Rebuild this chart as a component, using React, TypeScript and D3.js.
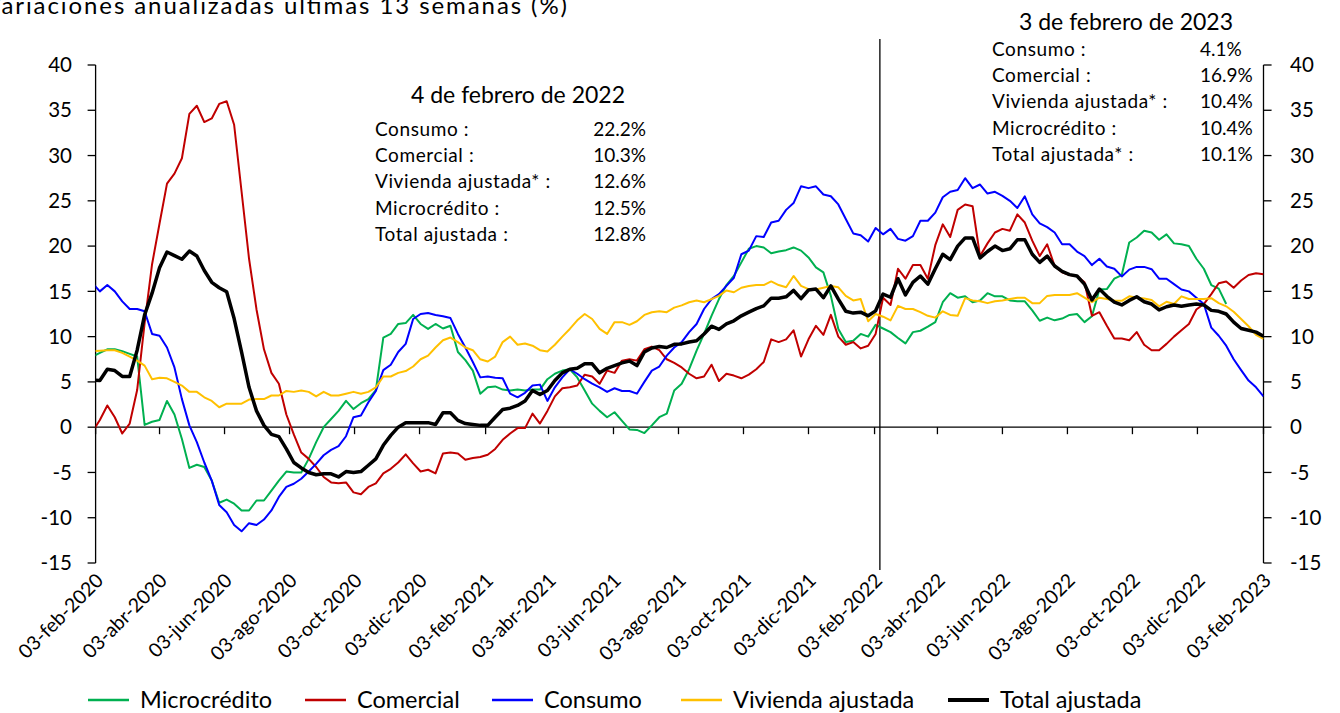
import React from "react";
import * as d3 from "d3";

// Weekly data (Fridays), first week 31-ene-2020, last week 03-feb-2023
const firstWeek = Date.UTC(2020, 0, 31);
const weekMs = 7 * 86400000;

const microcredito: (number | null)[] = [
  7.8, 8.2, 8.6, 8.6, 8.4, 8.1, 7.8, 0.25, 0.6, 0.8,
  2.9, 1.4, -1.3, -4.5, -4.15, -4.4, -5.9, -8.35, -8.0, -8.45,
  -9.2, -9.2, -8.1, -8.1, -7.0, -5.9, -4.9, -5.0, -5.0, -3.5,
  -1.65, 0, 0.9, 1.8, 2.9, 2.0, 2.65, 3.1, 4.1, 9.9,
  10.3, 11.4, 11.5, 12.4, 11.4, 10.85, 11.4, 10.9, 11.2, 8.3,
  7.4, 6.25, 3.7, 4.4, 4.5, 4.15, 4.05, 4.15, 4.05, 4.15,
  4.15, 5.3, 5.9, 6.25, 6.4, 5.5, 4.05, 2.6, 1.8, 1.1,
  1.65, 0.7, -0.25, -0.3, -0.65, 0.2, 1.1, 1.5, 4.05, 4.8,
  6.4, 8.45, 10.3, 12.3, 14.15, 15.7, 16.7, 18.2, 19.7, 20.0,
  19.85, 19.2, 19.4, 19.55, 19.85, 19.5, 18.75, 17.65, 17.1, 14.5,
  10.85, 9.4, 9.55, 10.3, 10.0, 11.3, 10.9, 10.5, 9.85, 9.25,
  10.5, 10.65, 11.1, 11.6, 13.8, 14.8, 14.3, 14.45, 13.8, 14.0,
  14.8, 14.45, 14.45, 14.0, 13.9, 13.9, 12.9, 11.75, 12.1, 11.8,
  12.0, 12.4, 12.5, 11.6, 12.25, 15.2, 15.25, 16.4, 16.8, 20.4,
  20.95, 21.7, 21.5, 20.7, 21.3, 20.3, 20.2, 20.0, 18.6, 17.5,
  15.7, 15.3, 13.6, null, null, null, null, null,
];

const comercial: (number | null)[] = [
  -0.5, 0.8, 2.4, 1.1, -0.7, 0.4, 4.1, 11.5, 18.0, 22.5,
  26.9, 28.0, 29.7, 34.6, 35.5, 33.7, 34.1, 35.7, 36.0, 33.4,
  26.0, 18.6, 13.0, 8.6, 6.0, 4.8, 1.4, -0.8, -2.8, -3.5,
  -4.4, -5.5, -6.1, -6.2, -6.1, -7.2, -7.4, -6.6, -6.2, -5.1,
  -4.6, -3.9, -3.0, -4.0, -4.9, -4.7, -5.1, -2.9, -2.8, -2.9,
  -3.6, -3.4, -3.3, -3.05, -2.4, -1.4, -0.7, -0.1, -0.1, 1.5,
  0.4, 1.8, 3.4, 4.3, 4.4, 4.6, 5.8, 5.6, 4.8, 6.25,
  6.0, 7.35, 7.5, 7.35, 8.6, 8.9, 8.5, 7.5, 7.1, 6.6,
  5.9, 5.4, 5.6, 6.9, 5.1, 5.9, 5.7, 5.4, 5.8, 6.4,
  7.2, 9.7, 9.4, 9.7, 10.7, 7.8, 9.7, 11.2, 10.2, 12.4,
  10.0, 9.1, 9.4, 8.7, 9.0, 10.3, 14.3, 13.5, 17.5, 16.4,
  17.9, 17.9, 16.4, 20.1, 22.4, 21.0, 24.0, 24.6, 24.4, 18.9,
  20.3, 21.5, 21.9, 21.7, 23.5, 22.6, 20.6, 18.9, 20.2, 17.8,
  17.1, 16.8, 16.7, 16.0, 12.3, 12.7, 11.2, 9.8, 9.8, 9.6,
  10.5, 9.1, 8.5, 8.5, 9.2, 10.0, 10.7, 11.4, 13.0, 13.6,
  14.7, 15.9, 16.1, 15.4, 16.2, 16.8, 17.0, 16.9,
];

const consumo: (number | null)[] = [
  15.9, 15.0, 15.7, 15.0, 13.9, 13.05, 13.05, 12.8, 10.3, 10.1,
  8.8, 6.6, 3.1, 0.2, -1.65, -3.9, -5.9, -8.6, -9.4, -10.8,
  -11.5, -10.6, -10.8, -10.2, -9.2, -7.7, -6.6, -6.25, -5.7, -4.9,
  -4.05, -3.1, -2.5, -2.1, -1.0, 1.1, 1.3, 2.75, 4.0, 6.3,
  6.9, 8.3, 9.2, 11.95, 12.5, 12.6, 12.4, 12.25, 12.05, 10.3,
  8.8, 7.2, 5.5, 5.6, 5.45, 5.4, 3.7, 3.3, 3.8, 4.6,
  4.7, 2.9, 4.4, 5.5, 6.4, 5.9, 5.3, 4.8, 4.4, 3.9,
  4.3, 4.0, 4.0, 3.7, 5.0, 6.25, 6.7, 7.9, 8.8, 9.4,
  10.5, 11.4, 13.05, 14.15, 14.7, 15.6, 16.5, 19.1, 19.5, 21.1,
  21.0, 22.6, 22.8, 24.0, 24.75, 26.6, 26.4, 26.6, 25.7, 25.5,
  24.6, 23.0, 21.4, 21.2, 20.5, 22.0, 21.3, 21.9, 20.8, 20.6,
  21.1, 22.8, 22.8, 23.7, 25.4, 26.0, 26.2, 27.5, 26.4, 26.8,
  25.8, 26.0, 25.55, 25.0, 24.2, 25.5, 23.5, 22.5, 22.1, 21.5,
  20.2, 20.2, 19.4, 18.9, 17.9, 18.6, 17.75, 17.5, 16.65, 17.4,
  17.7, 17.7, 17.45, 16.4, 16.4, 15.8, 15.2, 15.0, 14.3, 13.6,
  11.0, 10.1, 9.0, 7.5, 6.3, 5.15, 4.4, 3.4,
];

const vivienda: (number | null)[] = [
  8.4, 8.45, 8.5, 8.5, 8.2, 7.8, 7.35, 6.8, 5.3, 5.45,
  5.4, 5.0, 4.6, 3.9, 3.9, 3.3, 2.9, 2.2, 2.6, 2.6,
  2.6, 3.05, 3.1, 3.1, 3.5, 3.5, 4.0, 3.9, 4.05, 3.9,
  3.4, 3.9, 3.5, 3.5, 3.7, 3.9, 3.7, 3.9, 4.4, 5.6,
  5.6, 6.0, 6.2, 6.7, 7.5, 7.9, 8.8, 9.6, 9.9, 9.4,
  8.8, 8.5, 7.5, 7.25, 7.8, 9.4, 10.0, 9.1, 9.25, 9.0,
  8.5, 8.35, 9.1, 10.0, 10.85, 11.8, 12.5, 11.95, 10.85, 10.3,
  11.6, 11.6, 11.3, 11.7, 12.4, 12.7, 12.8, 12.7, 13.2, 13.45,
  13.8, 14.0, 13.8, 14.15, 14.5, 15.1, 14.9, 15.4, 15.6, 15.7,
  15.7, 16.1, 15.7, 15.45, 16.7, 15.6, 15.25, 15.2, 15.4, 15.6,
  15.45, 14.5, 14.0, 14.15, 11.7, 12.5, 12.2, 11.8, 13.4, 13.05,
  13.05, 12.7, 12.3, 12.1, 12.8, 12.4, 12.3, 14.25, 14.0, 13.9,
  13.7, 13.9, 14.0, 14.15, 14.3, 14.3, 13.7, 13.7, 14.5, 14.6,
  14.6, 14.6, 14.8, 14.3, 13.8, 14.3, 14.15, 14.0, 13.95, 14.45,
  14.3, 14.2, 14.05, 13.35, 13.85, 13.6, 14.45, 14.15, 14.15, 14.15,
  14.25, 13.7, 13.35, 12.75, 11.95, 11.15, 10.2, 9.75,
];

const totalAjustada: (number | null)[] = [
  5.2, 5.15, 6.4, 6.25, 5.6, 5.6, 8.5, 12.4, 14.8, 17.6,
  19.35, 18.95, 18.55, 19.45, 18.9, 17.3, 16.0, 15.4, 14.95, 12.0,
  8.3, 4.4, 1.8, 0.2, -0.8, -1.05, -2.4, -3.9, -4.5, -5.0,
  -5.25, -5.15, -5.15, -5.5, -4.9, -5.0, -4.9, -4.2, -3.5, -2.0,
  -0.9, 0, 0.5, 0.5, 0.5, 0.5, 0.3, 1.6, 1.6, 0.75,
  0.4, 0.3, 0.2, 0.2, 1.1, 1.95, 2.1, 2.4, 2.9, 4.05,
  3.6, 4.05, 5.15, 6.0, 6.4, 6.5, 7.0, 7.0, 6.0, 6.5,
  6.8, 7.1, 7.3, 6.8, 8.3, 8.75, 8.9, 8.8, 9.15, 9.2,
  9.4, 9.55, 10.3, 11.15, 10.8, 11.4, 11.75, 12.3, 12.7, 13.1,
  13.4, 14.25, 14.25, 14.4, 15.1, 14.2, 15.15, 15.25, 14.3, 15.6,
  14.15, 12.8, 12.6, 12.7, 12.3, 12.85, 14.7, 14.35, 16.4, 14.6,
  16.0, 16.7, 15.8, 17.5, 19.1, 18.5, 20.0, 20.9, 20.9, 18.7,
  19.4, 20.0, 19.5, 19.7, 20.7, 20.7, 19.1, 18.2, 18.9, 17.8,
  17.2, 16.85, 16.7, 15.8, 14.05, 15.25, 14.45, 13.8, 13.5, 14.0,
  14.4, 13.85, 13.6, 12.95, 13.3, 13.5, 13.35, 13.5, 13.6, 13.5,
  12.9, 12.8, 12.5, 11.6, 10.9, 10.7, 10.5, 10.05,
];

const xTickLabels = [
  "03-feb-2020", "03-abr-2020", "03-jun-2020", "03-ago-2020", "03-oct-2020",
  "03-dic-2020", "03-feb-2021", "03-abr-2021", "03-jun-2021", "03-ago-2021",
  "03-oct-2021", "03-dic-2021", "03-feb-2022", "03-abr-2022", "03-jun-2022",
  "03-ago-2022", "03-oct-2022", "03-dic-2022", "03-feb-2023",
];
const yTicks = [-15, -10, -5, 0, 5, 10, 15, 20, 25, 30, 35, 40];

const note2022Title = "4 de febrero de 2022";
const note2022Labels = ["Consumo :", "Comercial :", "Vivienda ajustada* :", "Microcrédito :", "Total ajustada :"];
const note2022Values = ["22.2%", "10.3%", "12.6%", "12.5%", "12.8%"];
const note2023Title = "3 de febrero de 2023";
const note2023Labels = ["Consumo :", "Comercial :", "Vivienda ajustada* :", "Microcrédito :", "Total ajustada* :"];
const note2023Values = ["4.1%", "16.9%", "10.4%", "10.4%", "10.1%"];
const markerDate = "08-feb-2022";

const title = "Variaciones anualizadas ultimas 13 semanas (%)";

const months: Record<string, number> = {
  ene: 0, feb: 1, mar: 2, abr: 3, may: 4, jun: 5, jul: 6, ago: 7, sep: 8, oct: 9, nov: 10, dic: 11,
};
const parseLabel = (s: string) => {
  const [d, m, y] = s.split("-");
  return new Date(Date.UTC(+y, months[m], +d));
};

const series = [
  { name: "Microcrédito", values: microcredito, color: "#00B050", width: 2 },
  { name: "Comercial", values: comercial, color: "#C00000", width: 2 },
  { name: "Consumo", values: consumo, color: "#0000FF", width: 2 },
  { name: "Vivienda ajustada", values: vivienda, color: "#FFC000", width: 2 },
  { name: "Total ajustada", values: totalAjustada, color: "#000000", width: 3.5 },
];

const W = 1340;
const H = 713;
const font = "Lato, 'Open Sans', sans-serif";

const App = () => {
  // Scales
  const x = d3
    .scaleUtc()
    .domain([parseLabel(xTickLabels[0]), parseLabel(xTickLabels[xTickLabels.length - 1])])
    .range([95.6, 1263.5]);
  const y = d3.scaleLinear().domain([-15, 40]).range([563, 65]);

  const dateAt = (i: number) => new Date(firstWeek + i * weekMs);

  const line = d3
    .line<number | null>()
    .defined((d) => d !== null)
    .x((_, i) => x(dateAt(i)))
    .y((d) => y(d as number));

  const [x0, x1] = x.range();
  const [yBottom, yTop] = y.range();
  const markerX = x(parseLabel(markerDate));

  const legendX = [88, 305, 492, 681, 948];

  return (
    <div style={{ position: "absolute", left: 0, top: 0 }}>
      <svg width={W} height={H} style={{ display: "block", background: "#fff" }} fontFamily={font}>
        <defs>
          <clipPath id="plot">
            <rect x={x0} y={0} width={x1 - x0} height={H} />
          </clipPath>
        </defs>

        {/* title, cut at the left and top edges like the original */}
        <text x={-15} y={14} fontSize={24} fill="#000" textLength={582} lengthAdjust="spacing">
          {title}
        </text>

        {/* left axis */}
        <line x1={x0} x2={x0} y1={yTop} y2={yBottom} stroke="#000" strokeWidth={1.3} />
        {yTicks.map((t) => (
          <g key={"l" + t}>
            <line x1={x0 - 8} x2={x0} y1={y(t)} y2={y(t)} stroke="#000" strokeWidth={1.3} />
            <text x={72} y={y(t)} dy="0.35em" textAnchor="end" fontSize={20.5}>
              {t}
            </text>
          </g>
        ))}

        {/* right axis */}
        <line x1={x1} x2={x1} y1={yTop} y2={yBottom} stroke="#000" strokeWidth={1.3} />
        {yTicks.map((t) => (
          <g key={"r" + t}>
            <line x1={x1} x2={x1 + 8} y1={y(t)} y2={y(t)} stroke="#000" strokeWidth={1.3} />
            <text x={1290} y={y(t)} dy="0.35em" textAnchor="start" fontSize={20.5}>
              {t}
            </text>
          </g>
        ))}

        {/* x axis at zero */}
        <line x1={x0} x2={x1} y1={y(0)} y2={y(0)} stroke="#000" strokeWidth={1.3} />
        {xTickLabels.map((lab) => {
          const tx = x(parseLabel(lab));
          return (
            <g key={lab}>
              <line x1={tx} x2={tx} y1={y(0)} y2={y(0) + 7} stroke="#000" strokeWidth={1.3} />
              <text
                transform={`translate(${tx + 4},${yBottom + 14}) rotate(-45)`}
                textAnchor="end"
                dy="0.35em"
                fontSize={19.5}
              >
                {lab}
              </text>
            </g>
          );
        })}

        {/* marker line */}
        <line x1={markerX} x2={markerX} y1={39} y2={570} stroke="#000" strokeWidth={1.3} />

        {/* series */}
        <g clipPath="url(#plot)">
          {series.map((s) => (
            <path
              key={s.name}
              d={line(s.values) || ""}
              fill="none"
              stroke={s.color}
              strokeWidth={s.width}
              strokeLinejoin="round"
            />
          ))}
        </g>

        {/* annotation 2022 */}
        <text x={518} y={103} textAnchor="middle" fontSize={23}>
          {note2022Title}
        </text>
        {note2022Labels.map((lab, i) => (
          <g key={"n22" + i}>
            <text x={375} y={129 + i * 26.3} dy="0.35em" fontSize={19} letterSpacing={0.6}>
              {lab}
            </text>
            <text x={646} y={129 + i * 26.3} dy="0.35em" textAnchor="end" fontSize={19}>
              {note2022Values[i]}
            </text>
          </g>
        ))}

        {/* annotation 2023 */}
        <text x={1126} y={30} textAnchor="middle" fontSize={23}>
          {note2023Title}
        </text>
        {note2023Labels.map((lab, i) => (
          <g key={"n23" + i}>
            <text x={992} y={49 + i * 26.3} dy="0.35em" fontSize={19} letterSpacing={0.6}>
              {lab}
            </text>
            <text x={1200} y={49 + i * 26.3} dy="0.35em" textAnchor="start" fontSize={19}>
              {note2023Values[i]}
            </text>
          </g>
        ))}

        {/* legend */}
        {series.map((s, i) => (
          <g key={"lg" + s.name} transform={`translate(${legendX[i]},700)`}>
            <line x1={0} x2={41} y1={0} y2={0} stroke={s.color} strokeWidth={s.width === 2 ? 2.5 : 4} />
            <text x={52} y={0} dy="0.35em" fontSize={23.5}>
              {s.name}
            </text>
          </g>
        ))}
      </svg>
    </div>
  );
};

export default App;
